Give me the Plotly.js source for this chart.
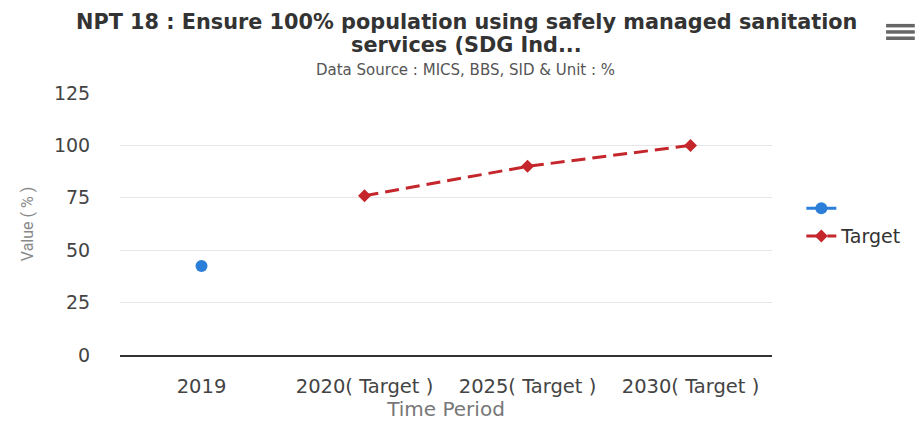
<!DOCTYPE html>
<html>
<head>
<meta charset="utf-8">
<script src="https://cdn.plot.ly/plotly-3.0.1.min.js"></script>
<style>html,body{margin:0;padding:0;background:#fff;}#chart{width:923px;height:421px;}</style>
</head>
<body>
<div id="chart"></div>
<script>
var categories = ["2019", "2020( Target )", "2025( Target )", "2030( Target )"];
var actualCats = ["2019"];
var actualValues = [42.5];
var targetCats = ["2020( Target )", "2025( Target )", "2030( Target )"];
var targetValues = [76, 90, 100];
var yTicks = [0, 25, 50, 75, 100, 125];
var titleLine1 = "NPT 18 : Ensure 100% population using safely managed sanitation";
var titleLine2 = "services (SDG Ind...";
var subtitle = "Data Source : MICS, BBS, SID & Unit : %";

var font = "'DejaVu Sans', Roboto, Arial, sans-serif";
var rfont = "Roboto, 'Noto Sans', Arial, sans-serif";

var traces = [
  {
    x: actualCats, y: actualValues, name: "", type: "scatter", mode: "lines+markers",
    marker: {color: "#2b7fd8", size: 12, symbol: "circle"},
    line: {color: "#2b7fd8", width: 3}
  },
  {
    x: targetCats, y: targetValues, name: "Target", type: "scatter", mode: "lines+markers",
    marker: {color: "#c4262b", size: 10, symbol: "diamond"},
    line: {color: "#c4262b", width: 3, dash: "14px,7px"}
  }
];

var layout = {
  width: 923, height: 421,
  margin: {l: 120, r: 151, t: 93, b: 66},
  paper_bgcolor: "#fff", plot_bgcolor: "#fff",
  font: {family: font, color: "#555"},
  annotations: [
    {text: "<b>" + titleLine1 + "</b>", xref: "paper", yref: "paper", x: 0.531, y: 1.271,
     xanchor: "center", yanchor: "middle", showarrow: false,
     font: {family: font, size: 20.8, color: "#333"}},
    {text: "<b>" + titleLine2 + "</b>", xref: "paper", yref: "paper", x: 0.531, y: 1.183,
     xanchor: "center", yanchor: "middle", showarrow: false,
     font: {family: font, size: 20.8, color: "#333"}},
    {text: subtitle, xref: "paper", yref: "paper", x: 0.53, y: 1.088,
     xanchor: "center", yanchor: "middle", showarrow: false,
     font: {family: font, size: 15, color: "#555"}}
  ],
  shapes: [
    {type: "line", xref: "paper", yref: "paper", x0: 1.175, x1: 1.219, y0: 1.257, y1: 1.257, line: {color: "#666", width: 3.5}},
    {type: "line", xref: "paper", yref: "paper", x0: 1.175, x1: 1.219, y0: 1.233, y1: 1.233, line: {color: "#666", width: 3.5}},
    {type: "line", xref: "paper", yref: "paper", x0: 1.175, x1: 1.219, y0: 1.209, y1: 1.209, line: {color: "#666", width: 3.5}}
  ],
  xaxis: {
    type: "category", categoryorder: "array", categoryarray: categories,
    range: [-0.5, 3.5], showgrid: false, zeroline: false,
    showline: true, linecolor: "#333", linewidth: 1.5,
    ticks: "outside", ticklen: 13, tickcolor: "rgba(0,0,0,0)",
    tickfont: {family: font, size: 19.5, color: "#444"},
    title: {text: "Time Period", font: {family: font, size: 20, color: "#777"}, standoff: 4}
  },
  yaxis: {
    range: [0, 125], tickvals: yTicks, ticktext: yTicks.map(String),
    showgrid: true, gridcolor: "#e6e6e6", gridwidth: 1, zeroline: false, showline: false,
    ticks: "outside", ticklen: 25, tickcolor: "rgba(0,0,0,0)",
    tickfont: {family: font, size: 19, color: "#444"},
    title: {text: "Value ( % )", font: {family: rfont, size: 16, color: "#888"}, standoff: 16}
  },
  legend: {
    x: 1.045, y: 0.632, xanchor: "left", yanchor: "top",
    font: {family: font, size: 19, color: "#333"},
    bgcolor: "rgba(0,0,0,0)", tracegroupgap: 0
  },
  showlegend: true
};

Plotly.newPlot("chart", traces, layout, {displayModeBar: false, staticPlot: true});
</script>
</body>
</html>
